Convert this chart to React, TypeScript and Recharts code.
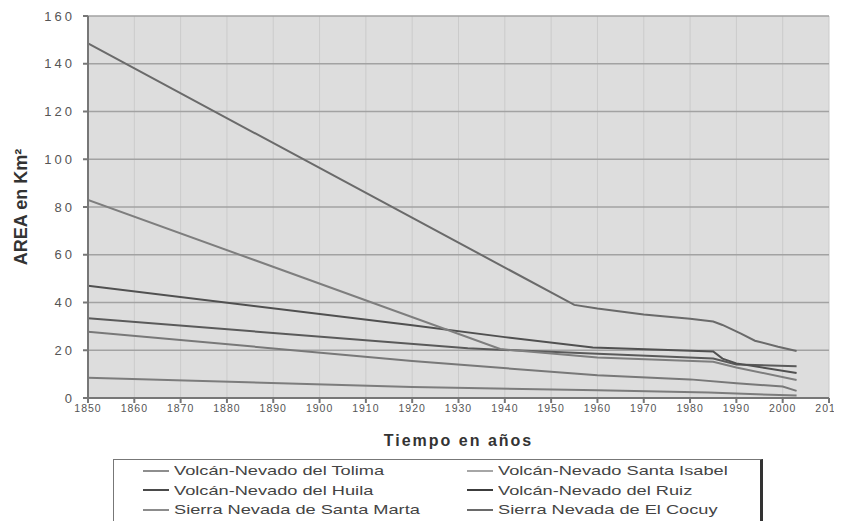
import { LineChart, Line, XAxis, YAxis, CartesianGrid } from 'recharts';

// Glacier area per massif (km²)
const tolimaYears = [1850, 1920, 1960, 1984, 2003];
const tolimaArea = [8.5, 4.6, 3.2, 2.3, 1.0];

const santaIsabelYears = [1850, 1920, 1960, 1980, 1990, 2000, 2003];
const santaIsabelArea = [27.8, 15.5, 9.5, 7.8, 6.2, 4.8, 3.0];

const huilaYears = [1850, 1932, 1960, 1985, 1990, 2003];
const huilaArea = [33.4, 20.8, 18.5, 16.5, 14.0, 13.3];

const ruizYears = [1850, 1920, 1940, 1959, 1985, 1987, 1990, 2003];
const ruizArea = [47.0, 30.5, 25.5, 21.2, 19.5, 16.5, 14.5, 10.5];

const santaMartaYears = [1850, 1939, 1960, 1985, 1990, 2003];
const santaMartaArea = [83.0, 20.5, 17.0, 15.2, 12.8, 7.5];

const cocuyYears = [1850, 1955, 1960, 1970, 1980, 1985, 1987, 1991, 1994, 1999, 2003];
const cocuyArea = [148.5, 39.0, 37.5, 35.0, 33.2, 32.0, 30.6, 27.0, 24.0, 21.5, 19.7];

const xTicks = [1850, 1860, 1870, 1880, 1890, 1900, 1910, 1920, 1930, 1940, 1950, 1960, 1970, 1980, 1990, 2000, 2010];
const yTicks = [0, 20, 40, 60, 80, 100, 120, 140, 160];

const series = [
  { name: 'Volcán-Nevado del Tolima', years: tolimaYears, area: tolimaArea, color: '#7c7c7c', legend: '#8e8e8e' },
  { name: 'Volcán-Nevado Santa Isabel', years: santaIsabelYears, area: santaIsabelArea, color: '#787878', legend: '#a6a6a6' },
  { name: 'Volcán-Nevado del Huila', years: huilaYears, area: huilaArea, color: '#5a5a5a', legend: '#4a4a4a' },
  { name: 'Volcán-Nevado del Ruiz', years: ruizYears, area: ruizArea, color: '#505050', legend: '#3c3c3c' },
  { name: 'Sierra Nevada de Santa Marta', years: santaMartaYears, area: santaMartaArea, color: '#7e7e7e', legend: '#8c8c8c' },
  { name: 'Sierra Nevada de El Cocuy', years: cocuyYears, area: cocuyArea, color: '#6a6a6a', legend: '#6a6a6a' },
];

const FONT = '"Liberation Sans", Arial, sans-serif';

const YLabel = (props: any) => {
  const { viewBox } = props;
  const cx = 13;
  const cy = viewBox.y + viewBox.height / 2;
  return (
    <text
      x={cx}
      y={cy}
      transform={`rotate(-90, ${cx}, ${cy})`}
      textAnchor="middle"
      dominantBaseline="central"
      fontFamily={FONT}
      fontSize={18}
      fontWeight="bold"
      fill="#333"
    >
      AREA en Km²
    </text>
  );
};

export default function App() {
  return (
    <div style={{ position: 'relative', width: 834, height: 513, fontFamily: FONT }}>
      <LineChart width={834} height={513} margin={{ top: 8, right: 13, left: 0, bottom: 75 }}>
        <CartesianGrid horizontal={false} stroke="#cbcbcb" fill="#dddddd" verticalValues={xTicks} />
        <CartesianGrid vertical={false} stroke="#a2a2a2" strokeWidth={1.5} />
        <XAxis
          dataKey="year"
          type="number"
          domain={[1850, 2010]}
          ticks={xTicks}
          interval={0}
          allowDataOverflow
          stroke="#777"
          strokeWidth={2}
          tickSize={5}
          tick={{ fill: '#555', fontSize: 10.5, fontFamily: FONT, letterSpacing: 1 }}
          height={48}
          label={{
            value: 'Tiempo en años',
            position: 'insideBottom',
            offset: 0,
            fill: '#333',
            fontSize: 16,
            fontWeight: 'bold',
            letterSpacing: 2,
            fontFamily: FONT,
          }}
        />
        <YAxis
          type="number"
          domain={[0, 160]}
          ticks={yTicks}
          interval={0}
          width={80}
          stroke="#777"
          strokeWidth={2}
          tickSize={5}
          tickMargin={8}
          tick={{ fill: '#555', fontSize: 13, fontFamily: FONT, letterSpacing: 3 }}
          label={<YLabel />}
        />
        {series.map((s) => (
          <Line
            key={s.name}
            data={s.years.map((y, i) => ({ year: y, area: s.area[i] }))}
            dataKey="area"
            name={s.name}
            type="linear"
            stroke={s.color}
            strokeWidth={2}
            dot={false}
            isAnimationActive={false}
          />
        ))}
      </LineChart>
      <div
        style={{
          position: 'absolute',
          left: 105,
          top: 451,
          width: 650,
          height: 70,
          border: '1px solid #777',
          borderRight: '3px solid #333',
          background: '#fff',
          display: 'grid',
          gridTemplateColumns: '324px 324px',
          gridAutoRows: '19.5px',
          paddingTop: 1,
          boxSizing: 'border-box',
        }}
      >
        {series.map((s) => (
          <div key={s.name} style={{ display: 'flex', alignItems: 'center', fontSize: 13, color: '#444', whiteSpace: 'nowrap' }}>
            <span style={{ display: 'inline-block', width: 26, height: 2, background: s.legend, marginLeft: 29, marginRight: 5 }} />
            <span style={{ display: 'inline-block', transform: 'scaleX(1.4)', transformOrigin: 'left center' }}>{s.name}</span>
          </div>
        ))}
      </div>
    </div>
  );
}
